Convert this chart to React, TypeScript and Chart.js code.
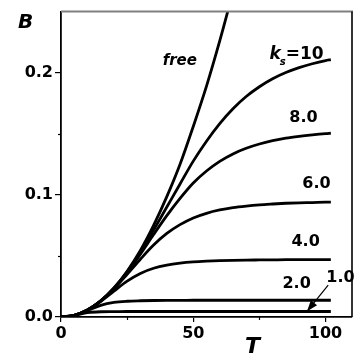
import React, { useEffect, useRef } from "react";
import { Chart, registerables } from "chart.js";
Chart.register(...registerables);

// ---- data ----
const T = [0, 5, 10, 15, 20, 25, 30, 35, 40, 45, 50, 55, 60, 65, 70, 75, 80, 85, 90, 95, 100, 102];
const freeT = [0, 5, 10, 15, 20, 25, 30, 35, 40, 45, 50, 55, 60, 65];
const freeB = [0, 0.0014, 0.0058, 0.0132, 0.0237, 0.0375, 0.0545, 0.075, 0.0985, 0.125, 0.156, 0.189, 0.226, 0.266];
const k10 = [0, 0.0014, 0.0058, 0.0132, 0.0236, 0.037, 0.0529, 0.0711, 0.09, 0.1089, 0.1276, 0.1439, 0.1583, 0.1705, 0.1805, 0.1885, 0.195, 0.2001, 0.2041, 0.2073, 0.2099, 0.2107];
const k8 = [0, 0.0014, 0.0058, 0.0131, 0.0234, 0.0364, 0.0514, 0.0675, 0.083, 0.0971, 0.1097, 0.1195, 0.1274, 0.1335, 0.1381, 0.1416, 0.1443, 0.1464, 0.1479, 0.1491, 0.1501, 0.1504];
const k6 = [0, 0.0014, 0.0058, 0.0131, 0.023, 0.0349, 0.0473, 0.0589, 0.0684, 0.0756, 0.0811, 0.0849, 0.0876, 0.0895, 0.0908, 0.0918, 0.0925, 0.0931, 0.0935, 0.0937, 0.094, 0.094];
const k4 = [0, 0.0014, 0.0058, 0.0127, 0.0212, 0.0294, 0.0357, 0.0399, 0.0425, 0.0441, 0.0451, 0.0457, 0.0461, 0.0464, 0.0466, 0.0467, 0.0468, 0.0469, 0.0469, 0.047, 0.047, 0.047];
const k2 = [0, 0.0014, 0.0053, 0.0095, 0.0119, 0.0129, 0.0133, 0.0135, 0.0136, 0.0136, 0.0137, 0.0137, 0.0137, 0.0137, 0.0137, 0.0137, 0.0137, 0.0137, 0.0137, 0.0137, 0.0137, 0.0137];
const k1 = [0, 0.0013, 0.0036, 0.0043, 0.0044, 0.0045, 0.0045, 0.0045, 0.0045, 0.0045, 0.0045, 0.0045, 0.0045, 0.0045, 0.0045, 0.0045, 0.0045, 0.0045, 0.0045, 0.0045, 0.0045, 0.0045];

const xTicks = [0, 50, 100];
const xTickLabels = ["0", "50", "100"];
const yTicks = [0, 0.1, 0.2];
const yTickLabels = ["0.0", "0.1", "0.2"];
const xMinor = [25, 75];
const yMinor = [0.05, 0.15];

const curveLabels = ["8.0", "6.0", "4.0", "2.0", "1.0"];
const labelAt = [
  [86.3, 0.16],
  [91.2, 0.1052],
  [87.1, 0.0578],
  [83.7, 0.0236],
  [100.3, 0.0284],
];

const FONT = "'DejaVu Sans', 'Liberation Sans', Arial, sans-serif";

const toPts = (xs: number[], ys: number[]) => xs.map((x, i) => ({ x, y: ys[i] }));

const decor = {
  id: "decor",
  afterDraw(chart: any) {
    const { ctx, chartArea: a, scales } = chart;
    const xs = scales.x;
    const ys = scales.y;
    ctx.save();
    // frame top (gray) and right (black)
    ctx.lineWidth = 2;
    ctx.strokeStyle = "#808080";
    ctx.beginPath();
    ctx.moveTo(a.left, a.top);
    ctx.lineTo(a.right + 1, a.top);
    ctx.stroke();
    ctx.strokeStyle = "#000";
    ctx.lineWidth = 1.6;
    ctx.beginPath();
    ctx.moveTo(a.right, a.top);
    ctx.lineTo(a.right, a.bottom);
    ctx.stroke();
    // minor ticks
    ctx.lineWidth = 1.2;
    xMinor.forEach((v) => {
      const px = Math.round(xs.getPixelForValue(v)) + 0.5;
      ctx.beginPath();
      ctx.moveTo(px, a.bottom);
      ctx.lineTo(px, a.bottom + 3);
      ctx.stroke();
    });
    yMinor.forEach((v) => {
      const py = Math.round(ys.getPixelForValue(v)) + 0.5;
      ctx.beginPath();
      ctx.moveTo(a.left, py);
      ctx.lineTo(a.left - 3, py);
      ctx.stroke();
    });
    // axis titles
    ctx.fillStyle = "#000";
    ctx.textBaseline = "alphabetic";
    ctx.textAlign = "left";
    ctx.font = `italic bold 20px ${FONT}`;
    ctx.fillText("B", 18, 28);
    ctx.font = `italic bold 22px ${FONT}`;
    ctx.fillText("T", 245, 353);
    // "free"
    ctx.font = `italic bold 15px ${FONT}`;
    ctx.textAlign = "center";
    ctx.fillText("free", xs.getPixelForValue(44.9), ys.getPixelForValue(0.2066));
    // k_s=10
    ctx.textAlign = "left";
    let kx = xs.getPixelForValue(78.8);
    const ky = ys.getPixelForValue(0.2115);
    ctx.font = `italic bold 17px ${FONT}`;
    ctx.fillText("k", kx, ky);
    kx += ctx.measureText("k").width - 1;
    ctx.font = `italic bold 10px ${FONT}`;
    ctx.fillText("s", kx, ky + 6);
    kx += ctx.measureText("s").width;
    ctx.font = `bold 17px ${FONT}`;
    ctx.fillText("=10", kx, ky);
    // other curve labels
    ctx.font = `bold 16px ${FONT}`;
    curveLabels.forEach((t, i) => {
      ctx.fillText(t, xs.getPixelForValue(labelAt[i][0]), ys.getPixelForValue(labelAt[i][1]));
    });
    // arrow from 1.0 label to curve
    const x0 = xs.getPixelForValue(101);
    const y0 = ys.getPixelForValue(0.026);
    const x1 = xs.getPixelForValue(93);
    const y1 = ys.getPixelForValue(0.0047);
    const ang = Math.atan2(y1 - y0, x1 - x0);
    ctx.lineWidth = 1.2;
    ctx.beginPath();
    ctx.moveTo(x0, y0);
    ctx.lineTo(x1, y1);
    ctx.stroke();
    const L = 11, W = 4;
    ctx.beginPath();
    ctx.moveTo(x1, y1);
    ctx.lineTo(x1 - L * Math.cos(ang) + W * Math.sin(ang), y1 - L * Math.sin(ang) - W * Math.cos(ang));
    ctx.lineTo(x1 - L * Math.cos(ang) - W * Math.sin(ang), y1 - L * Math.sin(ang) + W * Math.cos(ang));
    ctx.closePath();
    ctx.fill();
    ctx.restore();
  },
};

export default function App() {
  const ref = useRef<HTMLCanvasElement | null>(null);
  useEffect(() => {
    if (!ref.current) return;
    const line = (data: number[], xsArr = T) => ({
      data: toPts(xsArr, data),
      borderColor: "#000",
      borderWidth: 2.8,
      pointRadius: 0,
      fill: false,
      cubicInterpolationMode: "monotone" as const,
      clip: 0,
    });
    const chart = new Chart(ref.current, {
      type: "line",
      data: {
        datasets: [line(freeB, freeT), line(k10), line(k8), line(k6), line(k4), line(k2), line(k1)],
      },
      options: {
        responsive: false,
        animation: false,
        events: [],
        layout: { padding: { top: 11, right: 2, left: 0, bottom: 0 } },
        plugins: { legend: { display: false }, tooltip: { enabled: false } },
        scales: {
          x: {
            type: "linear",
            min: 0,
            max: 110,
            afterFit: (s: any) => {
              s.height = 39;
            },
            afterBuildTicks: (s: any) => {
              s.ticks = xTicks.map((v) => ({ value: v }));
            },
            grid: { drawOnChartArea: false, tickLength: 5, color: "#000", lineWidth: 1.2 },
            border: { color: "#000", width: 1.8 },
            ticks: {
              color: "#000",
              padding: 2,
              maxRotation: 0,
              font: { family: FONT, weight: "bold", size: 16 },
              callback: (v: any) => {
                const i = xTicks.indexOf(Number(v));
                return i >= 0 ? xTickLabels[i] : "";
              },
            },
          },
          y: {
            type: "linear",
            min: 0,
            max: 0.25,
            afterFit: (s: any) => {
              s.width = 61;
            },
            afterBuildTicks: (s: any) => {
              s.ticks = yTicks.map((v) => ({ value: v }));
            },
            grid: { drawOnChartArea: false, tickLength: 6, color: "#000", lineWidth: 1.2 },
            border: { color: "#000", width: 1.8 },
            ticks: {
              color: "#000",
              padding: 2,
              font: { family: FONT, weight: "bold", size: 16 },
              callback: (v: any) => {
                const i = yTicks.findIndex((t) => Math.abs(t - Number(v)) < 1e-9);
                return i >= 0 ? yTickLabels[i] : "";
              },
            },
          },
        },
      },
      plugins: [decor],
    });
    return () => chart.destroy();
  }, []);
  return (
    <div style={{ position: "fixed", left: 0, top: 0, width: 354, height: 356, background: "#fff" }}>
      <canvas ref={ref} width={354} height={356} style={{ display: "block" }} />
    </div>
  );
}
